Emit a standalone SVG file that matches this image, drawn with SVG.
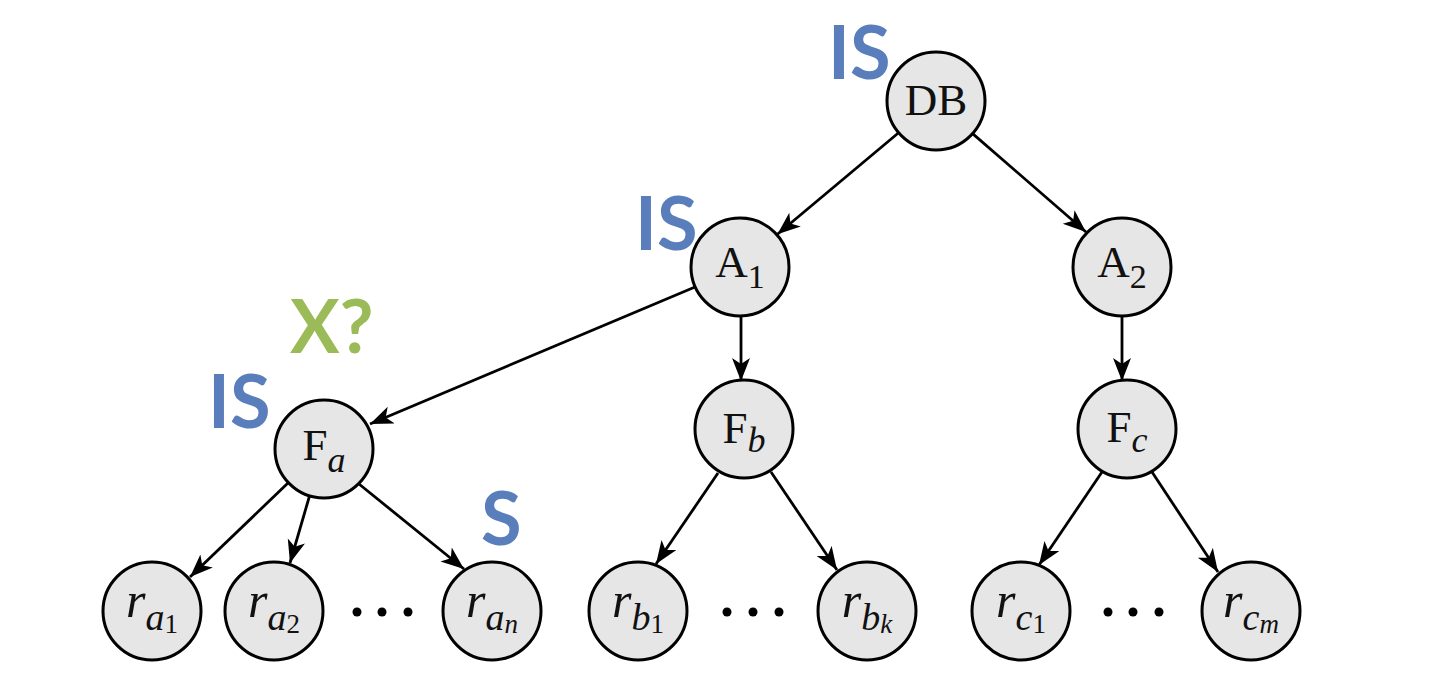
<svg xmlns="http://www.w3.org/2000/svg" width="1430" height="680" viewBox="0 0 1430 680">
<style>
.n{fill:#e6e6e6;stroke:#000;stroke-width:3}
.t{font-family:"Liberation Serif","DejaVu Serif",serif;font-size:45px;fill:#111;text-anchor:middle}
.r{font-family:"Liberation Serif","DejaVu Serif",serif;font-size:50px;fill:#111;text-anchor:middle;font-style:italic}
.e{stroke:#000;stroke-width:2.8;fill:none;marker-end:url(#ah)}
.is{font-family:Lato,"Open Sans",sans-serif;font-weight:700;font-size:74px;fill:#5a7dbb}
.x{font-family:Lato,"Open Sans",sans-serif;font-weight:700;font-size:74px;fill:#9bbb59}
.d{fill:#000}
</style>
<defs>
<marker id="ah" markerUnits="userSpaceOnUse" markerWidth="26" markerHeight="20" refX="23" refY="9" orient="auto">
<path d="M0,0 L23,9 L0,18 L6,9 z" fill="#000"/>
</marker>
</defs>
<g id="connectors">
<line class="e" x1="898.6" y1="132.7" x2="777.4" y2="234.3"/>
<line class="e" x1="972.6" y1="133.6" x2="1086" y2="232"/>
<line class="e" x1="695" y1="287" x2="370" y2="424"/>
<line class="e" x1="741" y1="316" x2="741" y2="381"/>
<line class="e" x1="1122" y1="316" x2="1122" y2="381"/>
<line class="e" x1="288" y1="483" x2="190" y2="577"/>
<line class="e" x1="309.5" y1="496" x2="290" y2="563"/>
<line class="e" x1="359" y1="484" x2="464" y2="569"/>
<line class="e" x1="718" y1="473" x2="656" y2="564"/>
<line class="e" x1="771" y1="472" x2="837" y2="570"/>
<line class="e" x1="1102" y1="472" x2="1039" y2="565"/>
<line class="e" x1="1152" y1="472" x2="1218" y2="572"/>
</g>
<g id="DB"><circle class="n" cx="936" cy="101" r="49"/><text class="t" x="936" y="115">DB</text></g>
<g id="A1"><circle class="n" cx="740" cy="267" r="49"/><text class="t" x="740" y="277">A<tspan font-size="34" dy="11">1</tspan></text></g>
<g id="A2"><circle class="n" cx="1122" cy="267" r="49"/><text class="t" x="1122" y="277">A<tspan font-size="34" dy="11">2</tspan></text></g>
<g id="Fa"><circle class="n" cx="324" cy="449" r="49"/><text class="t" x="324" y="460">F<tspan font-size="36" font-style="italic" dy="12">a</tspan></text></g>
<g id="Fb"><circle class="n" cx="744" cy="429" r="49"/><text class="t" x="744" y="443">F<tspan font-size="36" font-style="italic" dy="9">b</tspan></text></g>
<g id="Fc"><circle class="n" cx="1127" cy="429" r="49"/><text class="t" x="1127" y="442">F<tspan font-size="36" font-style="italic" dy="10">c</tspan></text></g>
<g id="ra1"><circle class="n" cx="152" cy="611" r="49"/><text class="r" x="152" y="617">r<tspan font-size="38" dy="13">a</tspan><tspan font-size="27" font-style="normal" dy="3">1</tspan></text></g>
<g id="ra2"><circle class="n" cx="274" cy="611" r="49"/><text class="r" x="274" y="617">r<tspan font-size="38" dy="13">a</tspan><tspan font-size="27" font-style="normal" dy="3">2</tspan></text></g>
<g id="ran"><circle class="n" cx="492" cy="611" r="49"/><text class="r" x="492" y="617">r<tspan font-size="38" dy="13">a</tspan><tspan font-size="27" dy="3">n</tspan></text></g>
<g id="rb1"><circle class="n" cx="638" cy="611" r="49"/><text class="r" x="638" y="617">r<tspan font-size="38" dy="13">b</tspan><tspan font-size="27" font-style="normal" dy="3">1</tspan></text></g>
<g id="rbk"><circle class="n" cx="867" cy="611" r="49"/><text class="r" x="867" y="617">r<tspan font-size="38" dy="13">b</tspan><tspan font-size="27" dy="3">k</tspan></text></g>
<g id="rc1"><circle class="n" cx="1021" cy="611" r="49"/><text class="r" x="1021" y="617">r<tspan font-size="38" dy="13">c</tspan><tspan font-size="27" font-style="normal" dy="3">1</tspan></text></g>
<g id="rcm"><circle class="n" cx="1251" cy="611" r="49"/><text class="r" x="1251" y="617">r<tspan font-size="38" dy="13">c</tspan><tspan font-size="27" dy="3">m</tspan></text></g>
<g id="dots">
<circle class="d" cx="357" cy="612" r="4.5"/><circle class="d" cx="382" cy="612" r="4.5"/><circle class="d" cx="408" cy="612" r="4.5"/>
<circle class="d" cx="727" cy="612" r="4.5"/><circle class="d" cx="753" cy="612" r="4.5"/><circle class="d" cx="779" cy="612" r="4.5"/>
<circle class="d" cx="1108" cy="612" r="4.5"/><circle class="d" cx="1133" cy="612" r="4.5"/><circle class="d" cx="1159" cy="612" r="4.5"/>
</g>
<g id="labels">
<text class="is" x="828" y="79">IS</text>
<text class="is" x="635" y="250">IS</text>
<text class="is" x="208" y="428">IS</text>
<text class="x" x="290" y="353">X?</text>
<text class="is" x="481" y="545">S</text>
</g>
</svg>
